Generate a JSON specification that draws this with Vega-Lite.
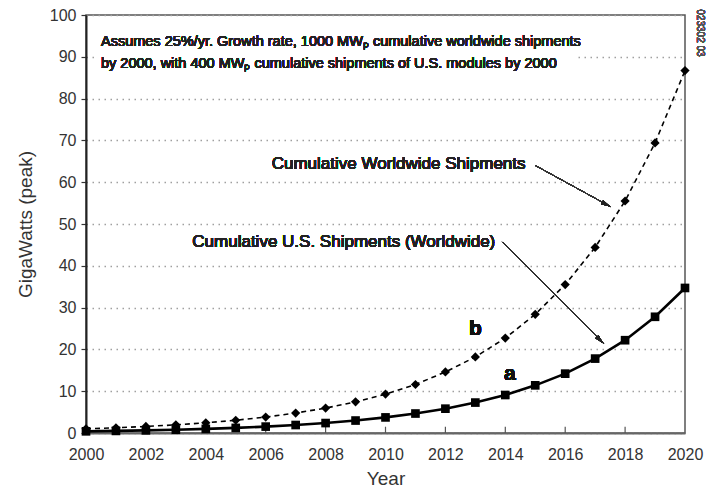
{
  "$schema": "https://vega.github.io/schema/vega-lite/v6.json",
  "width": 599,
  "height": 418,
  "autosize": "none",
  "padding": {"left": 86, "top": 15, "right": 28, "bottom": 56},
  "background": "white",
  "config": {
    "font": "Liberation Sans",
    "view": {"stroke": "#555555", "strokeWidth": 1.5},
    "axis": {
      "labelFont": "Liberation Sans",
      "titleFont": "Liberation Sans",
      "labelColor": "#333333",
      "titleColor": "#333333",
      "labelFontSize": 16,
      "titleFontSize": 19,
      "titleFontWeight": "normal",
      "domainColor": "#222222",
      "tickColor": "#333333"
    }
  },
  "datasets": {
    "shipments": [
      {"year": 2000, "us": 0.4, "world": 1.0},
      {"year": 2001, "us": 0.5, "world": 1.25},
      {"year": 2002, "us": 0.63, "world": 1.56},
      {"year": 2003, "us": 0.78, "world": 1.95},
      {"year": 2004, "us": 0.98, "world": 2.44},
      {"year": 2005, "us": 1.22, "world": 3.05},
      {"year": 2006, "us": 1.53, "world": 3.81},
      {"year": 2007, "us": 1.91, "world": 4.77},
      {"year": 2008, "us": 2.38, "world": 5.96},
      {"year": 2009, "us": 2.98, "world": 7.45},
      {"year": 2010, "us": 3.73, "world": 9.31},
      {"year": 2011, "us": 4.66, "world": 11.6},
      {"year": 2012, "us": 5.82, "world": 14.6},
      {"year": 2013, "us": 7.28, "world": 18.2},
      {"year": 2014, "us": 9.09, "world": 22.7},
      {"year": 2015, "us": 11.4, "world": 28.4},
      {"year": 2016, "us": 14.2, "world": 35.5},
      {"year": 2017, "us": 17.8, "world": 44.4},
      {"year": 2018, "us": 22.2, "world": 55.5},
      {"year": 2019, "us": 27.8, "world": 69.4},
      {"year": 2020, "us": 34.7, "world": 86.7}
    ]
  },
  "data": {"name": "shipments"},
  "layer": [
    {
      "mark": {"type": "rule", "opacity": 0},
      "encoding": {
        "x": {
          "field": "year", "type": "quantitative",
          "scale": {"domain": [2000, 2020], "nice": false, "zero": false},
          "axis": {
            "values": [2000, 2002, 2004, 2006, 2008, 2010, 2012, 2014, 2016, 2018, 2020],
            "format": "d", "title": "Year", "grid": false,
            "labelFlush": false, "labelOverlap": false,
            "ticks": false, "labelPadding": 13, "titlePadding": 7,
            "domainColor": "#666666", "domainWidth": 2
          }
        },
        "y": {
          "field": "us", "type": "quantitative",
          "scale": {"domain": [0, 100], "nice": false},
          "axis": {
            "values": [0, 10, 20, 30, 40, 50, 60, 70, 80, 90, 100],
            "title": "GigaWatts (peak)", "titlePadding": 14,
            "grid": true, "gridColor": "#a0a0a0", "gridDash": [1.5, 4.5], "gridWidth": 1.3,
            "tickSize": 5, "tickWidth": 1.2, "labelPadding": 5,
            "domainWidth": 2
          }
        }
      }
    },
    {
      "transform": [{"filter": "datum.year % 2 == 0 && datum.year > 2000 && datum.year < 2020"}],
      "mark": {"type": "rule", "color": "#555555", "strokeWidth": 1.2},
      "encoding": {
        "x": {"field": "year", "type": "quantitative"},
        "y": {"datum": 0},
        "y2": {"datum": 1.5}
      }
    },
    {
      "mark": {"type": "rect", "color": "white"},
      "encoding": {
        "x": {"datum": 2000.35},
        "x2": {"datum": 2016.3},
        "y": {"datum": 88.2},
        "y2": {"datum": 98.8}
      }
    },
    {
      "mark": {"type": "text", "align": "left", "baseline": "middle", "fontSize": 14.5, "color": "#222222", "lineHeight": 22,
        "text": ["Assumes 25%/yr. Growth rate, 1000 MWₚ cumulative worldwide shipments", "by 2000, with 400 MWₚ cumulative shipments of U.S. modules by 2000"]},
      "encoding": {"x": {"datum": 2000.5}, "y": {"datum": 93.5}}
    },
    {
      "mark": {"type": "line", "color": "black", "strokeWidth": 1.6, "strokeDash": [5, 4]},
      "encoding": {"x": {"field": "year", "type": "quantitative"}, "y": {"field": "world", "type": "quantitative"}}
    },
    {
      "mark": {"type": "point", "shape": "diamond", "filled": true, "color": "black", "size": 85, "opacity": 1},
      "encoding": {"x": {"field": "year", "type": "quantitative"}, "y": {"field": "world", "type": "quantitative"}}
    },
    {
      "mark": {"type": "line", "color": "black", "strokeWidth": 2.6},
      "encoding": {"x": {"field": "year", "type": "quantitative"}, "y": {"field": "us", "type": "quantitative"}}
    },
    {
      "mark": {"type": "point", "shape": "square", "filled": true, "color": "black", "size": 75, "opacity": 1},
      "encoding": {"x": {"field": "year", "type": "quantitative"}, "y": {"field": "us", "type": "quantitative"}}
    },
    {
      "mark": {"type": "text", "align": "left", "baseline": "middle", "fontSize": 17, "color": "#222222", "text": "Cumulative Worldwide Shipments"},
      "encoding": {"x": {"datum": 2006.2}, "y": {"datum": 64.3}}
    },
    {
      "mark": {"type": "text", "align": "left", "baseline": "middle", "fontSize": 17, "color": "#222222", "text": "Cumulative U.S. Shipments (Worldwide)"},
      "encoding": {"x": {"datum": 2003.55}, "y": {"datum": 45.8}}
    },
    {
      "mark": {"type": "rule", "color": "#333333", "strokeWidth": 1},
      "encoding": {"x": {"datum": 2015.0}, "y": {"datum": 64.0}, "x2": {"datum": 2017.5}, "y2": {"datum": 54.2}}
    },
    {
      "mark": {"type": "point", "shape": "M0,0L-0.45,1.9L0.45,1.9Z", "filled": true, "color": "#222222", "size": 90, "angle": 117.8, "opacity": 1},
      "encoding": {"x": {"datum": 2017.5}, "y": {"datum": 54.2}}
    },
    {
      "mark": {"type": "rule", "color": "#333333", "strokeWidth": 1},
      "encoding": {"x": {"datum": 2013.9}, "y": {"datum": 45.7}, "x2": {"datum": 2017.27}, "y2": {"datum": 21.5}}
    },
    {
      "mark": {"type": "point", "shape": "M0,0L-0.45,1.9L0.45,1.9Z", "filled": true, "color": "#222222", "size": 90, "angle": 135.5, "opacity": 1},
      "encoding": {"x": {"datum": 2017.27}, "y": {"datum": 21.5}}
    },
    {
      "mark": {"type": "text", "align": "center", "baseline": "middle", "fontSize": 21, "fontWeight": "bold", "color": "#111111", "text": "b"},
      "encoding": {"x": {"datum": 2013.0}, "y": {"datum": 25.0}}
    },
    {
      "mark": {"type": "text", "align": "center", "baseline": "middle", "fontSize": 21, "fontWeight": "bold", "color": "#111111", "text": "a"},
      "encoding": {"x": {"datum": 2014.15}, "y": {"datum": 14.0}}
    },
    {
      "mark": {"type": "text", "align": "center", "baseline": "middle", "fontSize": 10, "angle": 90, "color": "#555555", "text": "023302 03"},
      "encoding": {"x": {"datum": 2020.5}, "y": {"datum": 95.7}}
    }
  ]
}
